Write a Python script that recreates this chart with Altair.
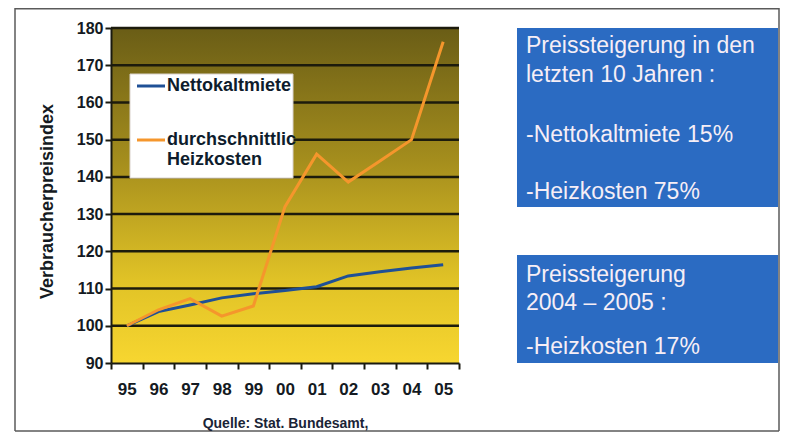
import altair as alt
import pandas as pd

# ---------------- data ----------------
years = ["95", "96", "97", "98", "99", "00", "01", "02", "03", "04", "05"]
netto = [100, 103.8, 105.6, 107.5, 108.6, 109.5, 110.5, 113.4, 114.5, 115.5, 116.4]
heiz = [100, 104.3, 107.3, 102.6, 105.3, 132.0, 146.1, 138.6, 144.3, 150.0, 176.3]
series_names = ["Nettokaltmiete", "durchschnittliche Heizkosten"]
series_colors = ["#1f5096", "#f5962c"]
y_ticks = [90, 100, 110, 120, 130, 140, 150, 160, 170, 180]
grid_values = [100, 110, 120, 130, 140, 150, 160, 170, 180]
y_title = "Verbraucherpreisindex"
source_text = "Quelle: Stat. Bundesamt,"
legend_lines = ["Nettokaltmiete", "durchschnittlic", "Heizkosten"]
box1_lines = ["Preissteigerung in den", "letzten 10 Jahren :", "-Nettokaltmiete 15%", "-Heizkosten 75%"]
box2_lines = ["Preissteigerung", "2004 \u2013 2005 :", "-Heizkosten 17%"]

rows = []
for i, yr in enumerate(years):
    rows.append({"year": yr, "idx": i, "series": series_names[0], "value": netto[i]})
for i, yr in enumerate(years):
    rows.append({"year": yr, "idx": i, "series": series_names[1], "value": heiz[i]})
df = pd.DataFrame(rows)
grid_df = pd.DataFrame({"value": grid_values})
one = pd.DataFrame({"a": [0]})

# ---------------- layout ----------------
W, H = 348, 335
FONT = "Liberation Sans"
DARK = "#141a22"
BLUE_BOX = "#2b6bc2"
BOX_TEXT = "#f6eef6"

yscale = alt.Scale(domain=[90, 180], nice=False, zero=False)
xscale = alt.Scale(type="band", domain=years, paddingInner=0, paddingOuter=0)

yaxis = alt.Axis(
    values=y_ticks, title=y_title, grid=False, zindex=1,
    titleFont=FONT, titleFontSize=18, titleFontWeight="bold", titleColor=DARK,
    titleX=-59, titleY=173, titleAngle=-90, titleAlign="center", titleBaseline="alphabetic",
    labelFont=FONT, labelFontSize=16, labelFontWeight="bold", labelColor=DARK, labelPadding=2,
    tickSize=6, tickWidth=2, tickColor="#1a1a10", domainColor="#1a1a10", domainWidth=2,
)
xaxis = alt.Axis(
    title=source_text, grid=False, zindex=1, labelAngle=0, tickBand="extent",
    labelFont=FONT, labelFontSize=17, labelFontWeight="bold", labelColor=DARK, labelPadding=12,
    tickSize=6, tickWidth=2, tickColor="#1a1a10", domainColor="#1a1a10", domainWidth=2,
    titleFont=FONT, titleFontSize=14, titleFontWeight="bold", titleColor="#1a2436",
    titleY=60, titleBaseline="middle",
)

gradient = alt.Gradient(
    gradient="linear",
    stops=[
        alt.GradientStop(color="#6a5d16", offset=0),
        alt.GradientStop(color="#a58e1d", offset=0.4),
        alt.GradientStop(color="#e0c226", offset=0.75),
        alt.GradientStop(color="#f7d630", offset=1),
    ],
    x1=0, x2=0, y1=0, y2=1,
)

bg = alt.Chart(one).mark_rect(color=gradient).encode(
    x=alt.value(0), x2=alt.value(W), y=alt.value(0), y2=alt.value(H)
)

grid = alt.Chart(grid_df).mark_rule(color="#1c1b0c", strokeWidth=2.5).encode(
    y=alt.Y("value:Q", scale=yscale, axis=yaxis)
)

legend_box = alt.Chart(one).mark_rect(fill="white", stroke="#d9d2cc", strokeWidth=1).encode(
    x=alt.value(19), x2=alt.value(182), y=alt.value(46), y2=alt.value(150)
)

lines = alt.Chart(df).mark_line(strokeWidth=3).encode(
    x=alt.X("year:O", scale=xscale, axis=xaxis),
    y=alt.Y("value:Q", scale=yscale, axis=yaxis),
    color=alt.Color("series:N", scale=alt.Scale(domain=series_names, range=series_colors), legend=None),
    order=alt.Order("idx:Q"),
)

def hline(x1, x2, y, color, w=3):
    return alt.Chart(one).mark_rule(color=color, strokeWidth=w).encode(
        x=alt.value(x1), x2=alt.value(x2), y=alt.value(y)
    )

def vline(x, y1, y2, color, w=1.5):
    return alt.Chart(one).mark_rule(color=color, strokeWidth=w).encode(
        x=alt.value(x), y=alt.value(y1), y2=alt.value(y2)
    )

def label(txt, x, y, size, color, weight="normal"):
    return alt.Chart(one).mark_text(
        align="left", baseline="middle", font=FONT, fontSize=size, fontWeight=weight, color=color
    ).encode(x=alt.value(x), y=alt.value(y), text=alt.value(txt))

legend_layers = [
    hline(26, 54, 58, series_colors[0]),
    hline(26, 54, 112, series_colors[1]),
    label(legend_lines[0], 56, 58, 18, "#0e1c2c", "bold"),
    label(legend_lines[1], 56, 112, 18, "#0e1c2c", "bold"),
    label(legend_lines[2], 56, 132, 18, "#0e1c2c", "bold"),
]

box1 = alt.Chart(one).mark_rect(color=BLUE_BOX).encode(
    x=alt.value(406), x2=alt.value(667), y=alt.value(0), y2=alt.value(179)
)
box2 = alt.Chart(one).mark_rect(color=BLUE_BOX).encode(
    x=alt.value(406), x2=alt.value(667), y=alt.value(227), y2=alt.value(335)
)
box_text = []
for txt, yy in zip(box1_lines, [18, 47, 107, 164]):
    box_text.append(label(txt, 415, yy, 23, BOX_TEXT))
for txt, yy in zip(box2_lines, [247, 275, 319]):
    box_text.append(label(txt, 415, yy, 23, BOX_TEXT))

frame = [
    vline(-96, -20, 403, "#5a5a5a"),
    vline(668, -20, 403, "#5a5a5a"),
    hline(-96, 668, 403, "#5a5a5a", 1.5),
    hline(-96, 668, -19.3, "#5a5a5a", 1.5),
]

chart = alt.layer(
    bg, grid, legend_box, lines, *legend_layers, box1, box2, *box_text, *frame
).properties(
    width=W, height=H,
    padding={"left": 103, "top": 20, "right": 328, "bottom": 69},
    autosize=alt.AutoSizeParams(type="none"),
    background="white",
).configure_view(stroke=None)

chart.save("out.html", embed_options={"renderer": "svg", "actions": False})
